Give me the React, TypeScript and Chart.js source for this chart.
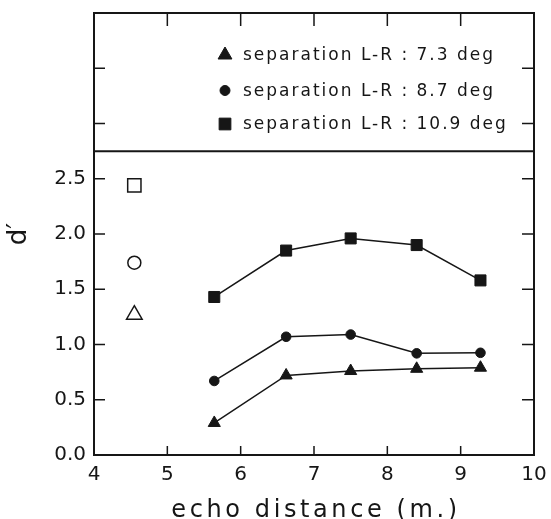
import React, { useEffect, useRef } from 'react';
import { Chart, registerables } from 'chart.js';
import { drawPoint } from 'chart.js/helpers';

Chart.register(...registerables);

// ---- data ----
const echoDistance = [5.64, 6.62, 7.5, 8.4, 9.27];
const sep73 = [0.29, 0.72, 0.76, 0.78, 0.79];
const sep87 = [0.67, 1.07, 1.09, 0.92, 0.925];
const sep109 = [1.43, 1.85, 1.96, 1.9, 1.58];
const referenceX = 4.55;
const reference73 = 1.27;
const reference87 = 1.74;
const reference109 = 2.44;
const seriesLabels = [
  'separation L-R : 7.3 deg',
  'separation L-R : 8.7 deg',
  'separation L-R : 10.9 deg',
];
const xMin = 4;
const xMax = 10;
const yMin = 0;
const yMax = 4;
const yLabelMax = 2.5;
const dividerValue = 2.75;
const xInnerTicks = [5, 6, 7, 8, 9];
const yInnerTicks = [0.5, 1, 1.5, 2, 2.5, 3, 3.5];
const xTitle = 'echo distance (m.)';
const yTitle = 'd\u2032';

const INK = '#161616';
const FONT = '"DejaVu Sans", sans-serif';

const framePlugin = {
  id: 'framePlugin',
  afterDraw(chart: any) {
    const { ctx, chartArea, scales } = chart;
    const { left, right, top, bottom } = chartArea;
    const x = scales.x;
    const y = scales.y;
    ctx.save();
    ctx.strokeStyle = INK;
    ctx.lineWidth = 2;
    ctx.strokeRect(left, top, right - left, bottom - top);
    // divider between plot and legend panel
    const dy = y.getPixelForValue(dividerValue);
    ctx.beginPath();
    ctx.moveTo(left, dy);
    ctx.lineTo(right, dy);
    ctx.stroke();
    // inward tick marks
    ctx.lineWidth = 1.5;
    ctx.beginPath();
    for (const v of xInnerTicks) {
      const px = x.getPixelForValue(v);
      ctx.moveTo(px, bottom);
      ctx.lineTo(px, bottom - 9);
      ctx.moveTo(px, top);
      ctx.lineTo(px, top + 13);
    }
    for (const v of yInnerTicks) {
      const py = y.getPixelForValue(v);
      ctx.moveTo(left, py);
      ctx.lineTo(left + 11, py);
      ctx.moveTo(right, py);
      ctx.lineTo(right - 12, py);
    }
    ctx.stroke();

    // legend
    const rowOffsets = [42, 77.5, 111];
    const legendRadius = [8, 5, 8.3];
    const markerX = left + 131;
    const textX = left + 149;
    ctx.font = `17px ${FONT}`;
    (ctx as any).letterSpacing = '2px';
    ctx.textAlign = 'left';
    ctx.textBaseline = 'middle';
    for (let i = 0; i < 3; i++) {
      const ds = chart.data.datasets[i];
      const ry = top + rowOffsets[i];
      ctx.fillStyle = INK;
      ctx.strokeStyle = INK;
      ctx.lineWidth = 1;
      drawPoint(ctx, { pointStyle: ds.pointStyle, radius: legendRadius[i], borderWidth: 1, rotation: 0 } as any, markerX, ry);
      ctx.fillStyle = INK;
      ctx.fillText(ds.label, textX, ry + 1);
    }

    // x-axis title
    ctx.font = `24px ${FONT}`;
    (ctx as any).letterSpacing = '3.6px';
    ctx.textAlign = 'center';
    ctx.textBaseline = 'alphabetic';
    ctx.fillStyle = INK;
    ctx.fillText(xTitle, (left + right) / 2 + 2, 517);
    ctx.restore();
  },
};

export default function App() {
  const canvasRef = useRef<HTMLCanvasElement | null>(null);

  useEffect(() => {
    if (!canvasRef.current) return;
    const line = (label: string, values: number[], style: string, radius: number) => ({
      label,
      data: echoDistance.map((xv, i) => ({ x: xv, y: values[i] })),
      showLine: true,
      borderColor: INK,
      backgroundColor: INK,
      borderWidth: 1.5,
      pointStyle: style,
      pointRadius: radius,
      pointBorderWidth: 1,
      pointBorderColor: INK,
      pointBackgroundColor: INK,
    });
    const open = (label: string, value: number, style: string, radius: number) => ({
      label,
      data: [{ x: referenceX, y: value }],
      showLine: false,
      borderColor: INK,
      backgroundColor: 'rgba(0,0,0,0)',
      pointStyle: style,
      pointRadius: radius,
      pointBorderWidth: 1.5,
      pointBorderColor: INK,
      pointBackgroundColor: 'rgba(0,0,0,0)',
    });
    const chart = new Chart(canvasRef.current, {
      type: 'scatter',
      data: {
        datasets: [
          line(seriesLabels[0], sep73, 'triangle', 7),
          line(seriesLabels[1], sep87, 'circle', 4.8),
          line(seriesLabels[2], sep109, 'rect', 7.8),
          open('reference 7.3', reference73, 'triangle', 9),
          open('reference 8.7', reference87, 'circle', 6.5),
          open('reference 10.9', reference109, 'rect', 9.4),
        ] as any,
      },
      options: {
        animation: false,
        responsive: true,
        maintainAspectRatio: false,
        events: [],
        layout: { padding: { left: 0, right: 17, top: 13, bottom: 0 } },
        plugins: {
          legend: { display: false },
          tooltip: { enabled: false },
        },
        scales: {
          x: {
            type: 'linear',
            min: xMin,
            max: xMax,
            afterFit: (s: any) => {
              s.height = 64;
              s.paddingLeft = 0;
              s.paddingRight = 0;
            },
            grid: { display: false, drawTicks: false },
            border: { display: false },
            ticks: {
              stepSize: 1,
              padding: 8,
              color: INK,
              font: { family: FONT, size: 20 },
              callback: (v: any) => String(v),
            },
          },
          y: {
            type: 'linear',
            min: yMin,
            max: yMax,
            afterFit: (s: any) => {
              s.width = 94;
              s.paddingTop = 0;
              s.paddingBottom = 0;
            },
            grid: { display: false, drawTicks: false },
            border: { display: false },
            title: {
              display: true,
              text: yTitle,
              color: INK,
              font: { family: FONT, size: 26 },
              padding: { top: 4, bottom: 0 },
            },
            ticks: {
              stepSize: 0.5,
              padding: 8,
              color: INK,
              font: { family: FONT, size: 20 },
              callback: (v: any) => (Number(v) <= yLabelMax + 1e-9 ? Number(v).toFixed(1) : ''),
            },
          },
        },
      } as any,
      plugins: [framePlugin],
    });
    return () => chart.destroy();
  }, []);

  return (
    <div style={{ position: 'absolute', left: 0, top: 0, width: 551, height: 519, background: '#fff' }}>
      <canvas ref={canvasRef} />
    </div>
  );
}
